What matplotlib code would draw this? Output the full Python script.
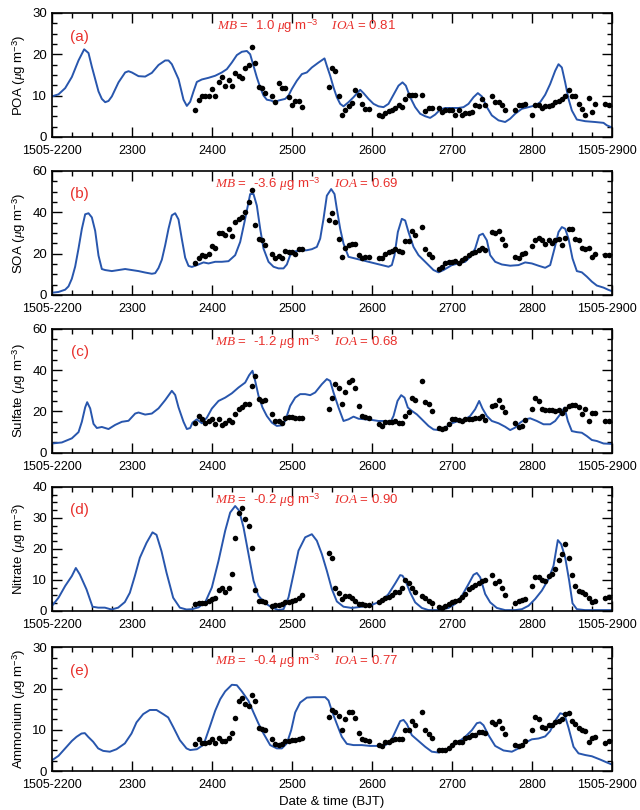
import numpy as np
import matplotlib
matplotlib.use('Agg')
import matplotlib.pyplot as plt
import matplotlib.transforms as mtransforms
from matplotlib.ticker import MultipleLocator

plt.rcParams['font.family'] = ['Liberation Sans', 'DejaVu Sans']
plt.rcParams['mathtext.fontset'] = 'custom'
plt.rcParams['mathtext.rm'] = 'Liberation Sans'
plt.rcParams['mathtext.it'] = 'Liberation Serif:italic'
plt.rcParams['mathtext.sf'] = 'Liberation Sans'

nan = np.nan

# hours since 1505-2200 (BJT); ticks every 24 h
tick_hours = [0, 24, 48, 72, 96, 120, 144, 168]
tick_labels = ['1505-2200', '2300', '2400', '2500', '2600', '2700', '2800', '1505-2900']

# observations are hourly, starting at hour 43
OBS_START = 43

poa_obs = [6.4, 9.0, 9.8, 9.8, 10.0, 11.6, 9.8, 13.4, 14.4, 12.4,
           13.8, 12.2, 15.4, 14.8, 14.2, 16.6, 17.4, 21.8, 17.8, 12.0,
           11.8, 10.6, nan, 9.8, 8.4, 13.0, 11.8, 11.8, 9.6, 7.8,
           8.6, 8.6, 7.2, nan, nan, nan, nan, nan, nan, nan,
           12.0, 16.6, 16.0, 10.0, 5.4, 6.4, 7.4, 8.2, 11.4, 10.2,
           8.0, 6.8, 6.8, nan, nan, 5.4, 5.0, 5.8, 6.2, 6.6,
           7.0, 7.8, 7.2, 9.2, 10.2, 10.2, 10.2, nan, 10.2, 6.2,
           7.0, 7.0, nan, 7.0, 6.0, 6.4, 6.4, 6.4, 5.4, 6.4,
           5.4, 5.8, 5.8, 6.0, 7.8, 7.4, 9.2, 7.8, nan, 9.8,
           8.4, 8.4, 7.8, 6.4, nan, nan, 6.4, 7.8, 7.8, 8.0,
           nan, 5.4, 7.8, 7.6, 7.0, 7.4, 7.4, 7.6, 8.4, 8.8,
           9.2, 10.0, 11.4, 10.0, 9.8, 8.0, 6.8, 5.4, 9.4, 6.0,
           8.0, nan, nan, 8.0, 7.8]

soa_obs = [15.5, 17.9, 19.2, 18.9, 20.0, 23.7, 22.7, 30.1, 30.1, 29.1,
           31.7, 28.5, 35.2, 36.5, 37.6, 40.0, 44.8, 50.7, 33.9, 27.2,
           26.4, 24.0, nan, 19.7, 17.9, 18.9, 17.9, 21.1, 20.5, 20.5,
           20.0, 22.1, 22.1, nan, nan, nan, nan, nan, nan, nan,
           36.0, 39.7, 35.2, 26.9, 18.1, 22.7, 24.3, 24.5, 24.5, 19.5,
           17.6, 18.4, 18.2, nan, nan, 17.9, 17.9, 20.0, 20.5, 21.1,
           22.1, 21.1, 20.8, 25.9, 25.9, 30.7, 28.8, nan, 32.8, 22.4,
           20.0, 18.1, nan, 12.3, 13.6, 15.5, 16.0, 16.0, 16.5, 15.5,
           17.1, 17.6, 19.2, 20.3, 20.8, 21.6, 22.7, 21.6, nan, 30.4,
           30.1, 30.7, 27.2, 24.3, nan, nan, 18.4, 17.6, 20.0, 20.3,
           nan, 23.5, 26.4, 27.5, 26.4, 24.8, 26.4, 25.3, 26.4, 26.9,
           24.3, 27.5, 31.7, 32.0, 26.9, 26.4, 22.7, 22.4, 22.7, 18.4,
           20.0, nan, nan, 19.2, 19.2]

sulfate_obs = [14.6, 17.8, 16.2, 14.3, 15.4, 16.2, 13.8, 16.5, 13.3, 14.6,
               15.9, 14.9, 18.6, 21.1, 22.4, 23.5, 23.5, 32.4, 37.3, 25.9,
               25.1, 25.6, nan, 18.6, 15.4, 15.4, 14.6, 17.0, 17.5, 17.5,
               17.0, 16.7, 16.7, nan, nan, nan, nan, nan, nan, nan,
               21.1, 26.4, 33.2, 31.6, 23.5, 29.5, 34.4, 35.2, 31.6, 22.7,
               17.8, 17.5, 17.0, nan, nan, 13.8, 13.0, 14.9, 14.9, 14.9,
               15.4, 14.6, 14.6, 17.8, 19.8, 26.7, 25.4, nan, 34.8, 24.6,
               23.5, 20.3, nan, 12.2, 11.7, 12.2, 13.8, 16.2, 16.5, 15.7,
               15.4, 16.2, 16.5, 16.5, 17.0, 17.0, 17.8, 15.9, nan, 22.7,
               23.0, 25.6, 22.4, 19.8, nan, nan, 14.3, 12.6, 13.0, 15.9,
               nan, 21.1, 26.7, 25.1, 21.1, 20.7, 20.7, 20.7, 20.3, 20.7,
               19.4, 21.1, 22.7, 23.0, 23.0, 22.4, 18.6, 21.4, 15.4, 19.1,
               19.1, nan, nan, 15.4, 15.4]

nitrate_obs = [2.2, 2.4, 2.4, 2.4, 3.0, 3.8, 4.1, 6.8, 7.3, 5.9,
               7.5, 11.8, 23.4, 31.7, 33.1, 29.6, 27.2, 20.4, 6.7, 3.2,
               3.0, 2.7, nan, 1.6, 1.9, 1.9, 2.2, 2.7, 2.7, 3.0,
               3.4, 4.1, 5.2, nan, nan, nan, nan, nan, nan, nan,
               18.5, 16.9, 7.3, 5.6, 3.8, 4.8, 4.8, 4.1, 3.0, 2.2,
               2.2, 1.9, 1.9, nan, nan, 2.7, 3.4, 4.1, 4.5, 5.2,
               5.9, 6.2, 7.3, 9.9, 8.8, 7.5, 5.9, nan, 4.8, 4.1,
               3.0, 2.4, nan, 1.1, 0.9, 1.6, 2.2, 2.7, 3.2, 3.4,
               4.3, 5.4, 7.0, 7.7, 8.4, 8.8, 9.5, 9.9, nan, 11.6,
               8.8, 9.5, 7.5, 5.2, nan, nan, 2.4, 3.0, 3.4, 3.8,
               nan, 8.1, 11.0, 10.8, 9.9, 9.7, 11.3, 12.0, 13.4, 16.3,
               18.3, 21.5, 17.0, 11.6, 8.1, 6.5, 5.9, 5.4, 4.1, 2.7,
               3.0, nan, nan, 4.1, 4.5]

ammonium_obs = [6.5, 7.7, 6.9, 6.7, 7.1, 7.7, 6.7, 8.1, 7.3, 7.3,
                8.1, 9.2, 12.9, 17.0, 17.6, 16.3, 15.8, 18.5, 17.0, 10.5,
                10.3, 10.0, nan, 7.7, 6.6, 6.3, 6.6, 7.3, 7.3, 7.5,
                7.5, 7.7, 7.9, nan, nan, nan, nan, nan, nan, nan,
                13.2, 14.8, 14.4, 13.4, 10.0, 12.6, 14.2, 14.4, 12.9, 9.2,
                7.7, 7.5, 7.3, nan, nan, 6.3, 6.1, 7.1, 7.1, 7.5,
                7.7, 7.7, 7.7, 9.9, 9.9, 12.1, 11.1, nan, 14.2, 10.0,
                9.1, 7.9, nan, 5.0, 5.0, 5.0, 5.5, 6.3, 7.1, 7.1,
                7.1, 7.9, 8.3, 8.7, 8.8, 9.5, 9.5, 9.2, nan, 11.8,
                11.4, 12.2, 10.5, 9.1, nan, nan, 6.3, 6.1, 6.3, 7.3,
                nan, 10.0, 13.2, 12.6, 10.8, 10.5, 11.1, 11.1, 11.8, 12.1,
                12.6, 13.8, 14.0, 12.2, 11.3, 10.5, 9.9, 9.7, 7.1, 7.9,
                8.3, nan, nan, 6.9, 7.3]

# model results as (hour, value) pairs
poa_model = [(0, 9.8), (2, 10.3), (4, 11.8), (6, 14.5), (8, 18.5), (9.7, 21.2), (11, 20.3),
             (12, 17), (13, 14), (14, 11), (15, 9.2), (16, 8.4), (17, 8.7), (18, 9.8), (20, 13.2),
             (22, 15.6), (23, 15.9), (24, 15.6), (26, 14.7), (28, 14.6), (30, 15.5), (32, 17.4),
             (34, 18.5), (35, 18.5), (36, 17.6), (38, 14), (39.5, 9), (40.5, 7.5), (41.5, 8.5),
             (42.5, 11), (43.5, 13.3), (45, 13.9), (47, 14.3), (49, 14.8), (51, 15.6), (52.5, 16.4),
             (54, 18), (55.5, 19.8), (57, 20.6), (58.5, 20.8), (59.5, 20), (60.5, 17.2), (61.5, 14.4),
             (62.5, 12), (63.5, 10), (64.5, 9), (65.8, 8.8), (66.8, 8.4), (68, 8.8), (70, 9.2),
             (71, 10), (72, 11.6), (73.5, 13.6), (75, 15.2), (76.5, 15.6), (78, 16.8), (80, 18),
             (81.8, 19), (82.5, 17.2), (83.5, 14.8), (84.5, 12), (85.5, 9.6), (86.5, 8), (87.5, 7.4),
             (89, 8.4), (90.5, 9.6), (92.5, 11.4), (93.5, 10.6), (95, 9.2), (96.5, 8), (98, 7.4),
             (99.5, 7.2), (101, 8), (102.5, 10.2), (104, 12.4), (105.2, 13.2), (106.2, 12.4),
             (107.5, 9.6), (109, 7.2), (110.5, 5.6), (112, 5), (113.5, 4.6), (115, 5.4), (116.5, 6.6),
             (118, 7), (120, 7), (122, 7), (123.5, 7.2), (125, 8), (126.5, 9.6), (127.8, 10.6),
             (129, 9.8), (130.5, 7.2), (132, 5.2), (134, 4), (136, 3.6), (137.5, 4.4), (139, 5.6),
             (141, 6.8), (143, 7.2), (145, 7.6), (146.5, 8.4), (148, 10.2), (149.5, 12.8), (151, 16),
             (152, 17.6), (153, 16.8), (154, 13.2), (155, 9.2), (156, 6.4), (157.5, 4.2), (160, 3.8),
             (163, 3.6), (165.5, 3.4), (166.5, 2.8), (168, 2.3)]

soa_model = [(0, 1), (2, 1.4), (4, 2.5), (5, 4.1), (6, 7.8), (7, 13.7), (8, 22.4), (9, 31.9),
             (10, 39), (11, 39.5), (12, 37.5), (13, 31), (14, 19), (15, 12.5), (16, 12), (18, 11.5),
             (20, 12), (22, 12.5), (24, 12), (26, 11.5), (28, 10.8), (30, 10.2), (31, 10.5), (32, 13),
             (33, 17), (34, 24), (35, 32), (36, 38.5), (37, 39.5), (38, 36.5), (39, 27), (40, 18),
             (41, 14), (42, 13.5), (44, 14.7), (45.5, 15.7), (47, 15.2), (49, 16), (51, 16),
             (53, 16.3), (55, 19.2), (56.5, 25.6), (58, 36.8), (59.5, 48.8), (60.5, 48.8),
             (61.5, 43.2), (62.5, 32), (63.5, 22.4), (65, 16), (66.5, 13.6), (68, 12.8), (69.5, 12.8),
             (70.5, 14.7), (71.5, 19.2), (73, 21.1), (74.5, 21.4), (76.5, 21.6), (78, 22.1),
             (79.5, 23.2), (80.5, 27.2), (81.5, 36.8), (82.5, 48), (83.8, 51.2), (84.8, 48.8),
             (85.5, 41.6), (86.5, 32), (87.5, 24.8), (89, 18.4), (91, 17.6), (93, 16.8), (95, 16),
             (97, 15.2), (99, 14.4), (101, 13.6), (102, 14.4), (102.8, 19.2), (103.8, 30.4),
             (105, 36.8), (106, 36), (107, 30.4), (108.5, 23.2), (110, 19.2), (112, 16), (114.5, 12),
             (116, 10.9), (117.5, 12), (120, 14.4), (122, 15.2), (124, 16), (125.5, 18.4),
             (127, 22.4), (128.2, 28.8), (129.3, 29.6), (130.5, 26.4), (131.5, 19.2), (133, 16),
             (135, 14.7), (137.5, 14.1), (140, 14.4), (142, 15.7), (144, 15.2), (146, 14.1),
             (148, 13.1), (149.5, 14.4), (150.8, 22.4), (152, 30.4), (153, 32.8), (154, 32),
             (155, 27.2), (156.2, 17.6), (157.5, 11.5), (159, 10.9), (160.5, 8.8), (162, 6.4),
             (163.5, 4.5), (165.5, 3.5), (167, 2.4), (168, 1.8)]

sulfate_model = [(0, 4.5), (3, 5), (6, 7), (8, 10), (9, 15), (10, 22), (10.6, 24.5), (11.5, 21.5),
                 (12.5, 14), (13.5, 12), (15, 12.5), (17, 11.5), (19, 13.5), (21, 15), (23, 15.5),
                 (25, 19), (26, 19.5), (28, 18.5), (30, 19), (32, 21.5), (34, 25.5), (36, 30),
                 (37, 28), (38, 22), (39.5, 15), (40.5, 11.5), (41.5, 12), (42.2, 14.6), (43.5, 16.2),
                 (45, 14.3), (46.5, 17), (48, 21.4), (50, 25.1), (52, 26.7), (54, 28.8), (56, 31.6),
                 (58, 34), (59.2, 37.6), (60.2, 39.7), (61, 34.8), (62, 27.6), (63.2, 21.9),
                 (64.5, 17.8), (66, 14.6), (67.5, 13), (69, 13.3), (70, 15.4), (71.5, 22.7),
                 (73, 26.7), (74.5, 28.4), (76, 28.4), (77.5, 27.9), (79, 29.2), (81, 33.2),
                 (82.5, 35.7), (83.5, 34.8), (84.5, 29.2), (86, 21.9), (87.5, 15.4), (89, 16.2),
                 (90.5, 17.5), (92, 16.5), (94, 16.2), (96, 15.9), (98, 15.4), (100, 15.4),
                 (101.5, 14.6), (102.5, 17.8), (103.7, 25.1), (104.8, 27.9), (105.8, 26.7),
                 (106.8, 21.9), (108, 20.3), (109.5, 18.6), (111, 16.2), (113, 13), (114.5, 11.3),
                 (116, 11), (118, 12.2), (120, 14.3), (122, 15.4), (124, 16.2), (125.5, 17.8),
                 (127, 21.1), (128.2, 25.1), (129.2, 21.4), (130.5, 17.8), (132, 15.4), (134, 14.3),
                 (136, 12.6), (137.5, 11), (139, 12.2), (140.5, 14.6), (142, 16.2), (143.5, 16.7),
                 (145.5, 15.4), (147.5, 13.8), (149.5, 13.8), (151, 15.4), (152.5, 18.6),
                 (153.8, 21.9), (154.8, 15.4), (156, 10.5), (157.5, 10), (159, 9.7), (160.5, 8.1),
                 (162, 6.2), (163.5, 5.7), (165.5, 4.5), (168, 4.3)]

nitrate_model = [(0, 1.5), (2, 4.2), (4, 8), (6, 11.2), (7.2, 13.8), (8.4, 11.7), (10.4, 6.9),
                 (12.2, 1.3), (13.9, 1), (15.9, 1), (17.9, 0.4), (19.9, 1), (21.9, 2.8), (23.4, 5.8),
                 (24.9, 11.2), (26.4, 17.1), (28.4, 21.9), (30.2, 25.3), (31.4, 24.5), (32.9, 19.2),
                 (34.4, 12.3), (36.4, 4.2), (38.4, 1), (40.4, 0.4), (42, 0.5), (44, 1.1), (46, 2.7),
                 (48, 7.5), (50, 16.1), (52, 25.8), (53.5, 31.7), (55, 33.8), (56.2, 32.3),
                 (57.5, 26.9), (59, 18.3), (60.5, 9.7), (62, 4.8), (64, 2.4), (66, 1.1), (68, 0.2),
                 (69.5, 0.5), (71, 4.3), (72.5, 11.8), (74, 19.4), (76, 23.7), (78, 24.7),
                 (79.5, 22.6), (81, 18.3), (82.5, 12.9), (84, 7), (85.5, 3), (87.5, 1.3), (90, 0.9),
                 (93, 1.3), (96, 1.9), (99, 3.2), (101, 5.4), (103, 8.8), (104.5, 11.5),
                 (105.2, 11.3), (106, 9.9), (107.5, 5.9), (109, 2.7), (111, 0.9), (113, 0.2),
                 (116, 0.2), (119, 0.9), (121, 2.2), (123, 4.8), (125, 8.6), (126.5, 11.6),
                 (127.5, 12.2), (128.5, 10.8), (130, 5.4), (131.5, 2.7), (133.5, 0.9), (136, 0.2),
                 (139, 0.2), (141, 0.5), (143, 1.6), (145, 3.8), (147, 6.5), (149, 10.2),
                 (150.5, 14.5), (151.8, 22.8), (152.8, 21.5), (154, 17.2), (155.2, 9.7),
                 (156.2, 2.4), (157.5, 0.5), (160, 0.2), (168, 0.2)]

ammonium_model = [(0, 2.6), (2, 3.7), (4, 5.5), (6, 7.3), (7.4, 8.3), (8.9, 9.1), (9.9, 9.2),
                  (10.9, 8.3), (12.4, 7.1), (13.9, 5.5), (15.4, 4.9), (17.4, 4.7), (19.4, 5.3),
                  (21.9, 6.7), (23.9, 9.1), (25.4, 11.8), (27.4, 13.8), (29.4, 14.8), (31.4, 14.8),
                  (33.4, 13.8), (34.9, 13), (36.4, 10.7), (38.4, 7.5), (40.4, 5.5), (41.5, 5.1),
                  (43.5, 5.3), (45, 6.1), (46, 7.5), (47.5, 11), (49, 14.6), (50.5, 17.4), (52, 19.3),
                  (54, 20.9), (55.5, 20.8), (57, 19.3), (59, 17), (60.5, 14.2), (62, 11.5),
                  (63.5, 9.1), (65.5, 6.3), (67.5, 5.5), (69, 5.5), (70.5, 6.7), (71.8, 9.9),
                  (73, 14.2), (74.5, 16.6), (76.5, 17.8), (78.5, 17.9), (80.5, 17.9), (82, 17.9),
                  (83, 17.1), (84, 14.6), (85.5, 11.4), (87, 8.3), (88.5, 6.6), (90.5, 6.3),
                  (93, 6.3), (95.5, 6.1), (98, 6.1), (100, 6.3), (101.5, 6.9), (103, 9.5),
                  (104.5, 12.1), (105.5, 12.4), (106.5, 11.4), (108, 8.7), (110, 7.3), (112, 5.9),
                  (114, 4.7), (116, 4.5), (118, 5.1), (120, 6.1), (122, 7.1), (124, 8.3), (126, 9.9),
                  (127.5, 11.6), (128.5, 11.8), (129.5, 11.1), (131, 8.7), (133, 6.1), (135.5, 5),
                  (138, 4.7), (140, 5.5), (142, 6.9), (144, 7.7), (146, 7.9), (148, 8.4),
                  (149.5, 9.7), (151, 12.2), (152.5, 14), (153.8, 13.7), (155, 10.5), (156.5, 5.9),
                  (158, 4.3), (160, 3.9), (162, 3.6), (164.5, 2.8), (166.5, 2.1), (168, 1.6)]

species = ['POA', 'SOA', 'Sulfate', 'Nitrate', 'Ammonium']
letters = ['(a)', '(b)', '(c)', '(d)', '(e)']
mb_values = ['1.0', '-3.6', '-1.2', '-0.2', '-0.4']
ioa_values = ['0.81', '0.69', '0.68', '0.90', '0.77']
y_max = [30, 60, 60, 40, 30]
y_step = [10, 20, 20, 10, 10]
obs_all = [poa_obs, soa_obs, sulfate_obs, nitrate_obs, ammonium_obs]
model_all = [poa_model, soa_model, sulfate_model, nitrate_model, ammonium_model]

BLUE = '#2856ad'
RED = '#e8302c'

fig = plt.figure(figsize=(6.4, 8.1), dpi=100)
bottoms = [0.831, 0.636, 0.441, 0.246, 0.048]
# nudge the last date label so it stays inside the figure
shift_left = mtransforms.ScaledTranslation(-5 / 100, 0, fig.dpi_scale_trans)

for i in range(5):
    ax = fig.add_axes([0.081, bottoms[i], 0.875, 0.153])
    obs = np.array(obs_all[i], dtype=float)
    obs_t = OBS_START + np.arange(len(obs))
    mod = np.array(model_all[i], dtype=float)

    ax.plot(mod[:, 0], mod[:, 1], color=BLUE, lw=1.4, zorder=2)
    ax.plot(obs_t, obs, 'o', color='black', ms=4, mec='none', zorder=3)

    ax.set_xlim(0, 168)
    ax.set_ylim(0, y_max[i])
    ax.set_xticks(tick_hours)
    ax.set_xticklabels(tick_labels)
    ax.xaxis.set_minor_locator(MultipleLocator(6))
    ax.yaxis.set_major_locator(MultipleLocator(y_step[i]))
    ax.yaxis.set_minor_locator(MultipleLocator(y_step[i] / 4))
    ax.tick_params(which='both', direction='in', top=True, right=True)
    ax.tick_params(axis='x', labelsize=9, pad=6)
    ax.tick_params(axis='y', labelsize=9.5)
    ax.tick_params(which='major', length=7, width=1)
    ax.tick_params(which='minor', length=3.5, width=1)
    for sp in ax.spines.values():
        sp.set_linewidth(1.2)
    last = ax.get_xticklabels()[-1]
    last.set_transform(last.get_transform() + shift_left)

    ax.set_ylabel(species[i] + r' ($\mu$g m$^{-3}$)', fontsize=9.5, labelpad=3)
    ax.text(0.05, 0.81, letters[i], transform=ax.transAxes, color=RED,
            fontsize=11, ha='center', va='center')
    ax.text(0.455, 0.89,
            r'$MB$ =  ' + mb_values[i] + r' $\mu$g m$^{-3}$    $IOA$ = ' + ioa_values[i],
            transform=ax.transAxes, color=RED, fontsize=9.5, ha='center', va='center')

    if i == 4:
        ax.set_xlabel('Date & time (BJT)', fontsize=9.5, labelpad=3)

fig.savefig('out.png', dpi=100)
